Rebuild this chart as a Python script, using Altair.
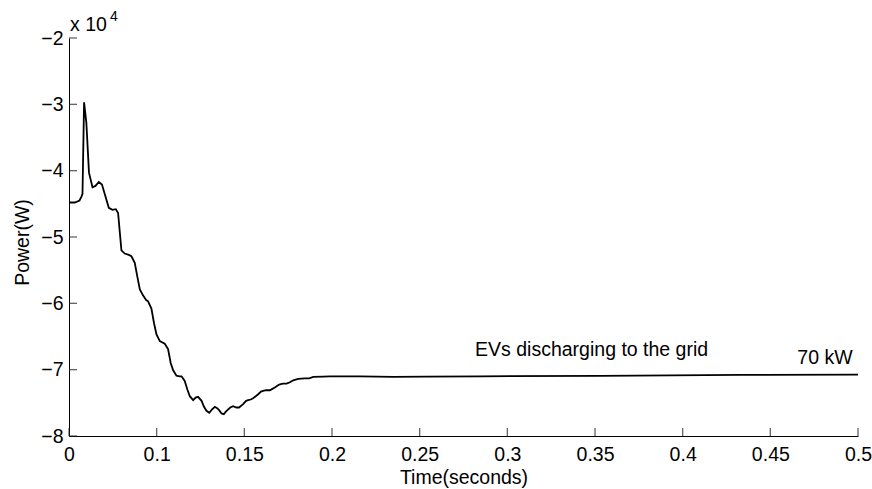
import altair as alt
import pandas as pd

# ---- data (time axis as displayed, power in W) ----
TIME = [0.0500, 0.0533, 0.0560, 0.0571, 0.0577, 0.0586, 0.0599, 0.0614, 0.0634, 0.0651,
        0.0670, 0.0688, 0.0708, 0.0727, 0.0748, 0.0767, 0.0780, 0.0799, 0.0818, 0.0841,
        0.0856, 0.0875, 0.0890, 0.0904, 0.0922, 0.0940, 0.0951, 0.0970, 0.0985, 0.0999,
        0.1018, 0.1046, 0.1065, 0.1080, 0.1094, 0.1113, 0.1130, 0.1142, 0.1160, 0.1175,
        0.1189, 0.1208, 0.1222, 0.1236, 0.1256, 0.1270, 0.1284, 0.1300, 0.1316, 0.1332,
        0.1345, 0.1356, 0.1370, 0.1383, 0.1396, 0.1408, 0.1420, 0.1436, 0.1455, 0.1470,
        0.1493, 0.1510, 0.1522, 0.1536, 0.1550, 0.1565, 0.1579, 0.1595, 0.1607, 0.1625,
        0.1646, 0.1660, 0.1674, 0.1690, 0.1703, 0.1720, 0.1741, 0.1760, 0.1779, 0.1807,
        0.1845, 0.1870, 0.1893, 0.1950, 0.1988, 0.2159, 0.2349, 0.2540, 0.2844, 0.3529,
        0.4328, 0.5000]
POWER_W = [-44800, -44800, -44500, -43900, -43500, -29700, -32800, -40300, -42500, -42300,
           -41700, -42100, -43900, -45600, -45900, -45800, -46400, -52000, -52500, -52700,
           -52900, -53900, -56000, -57900, -58800, -59500, -59700, -60800, -63000, -64700,
           -65700, -66100, -66900, -69000, -70100, -70900, -71000, -71000, -71700, -73000,
           -74000, -74600, -74200, -74100, -74700, -75600, -76200, -76500, -76000, -75600,
           -75800, -76100, -76600, -76700, -76300, -76000, -75700, -75500, -75700, -75700,
           -75200, -74700, -74600, -74500, -74300, -74000, -73700, -73300, -73200, -73100,
           -73100, -72900, -72700, -72400, -72200, -72100, -72100, -71900, -71600, -71400,
           -71300, -71300, -71100, -71050, -71000, -71000, -71100, -71050, -71000, -70950,
           -70800, -70750]

X_TICKS = [0.05, 0.1, 0.15, 0.2, 0.25, 0.3, 0.35, 0.4, 0.45, 0.5]
Y_TICKS = [-80000, -70000, -60000, -50000, -40000, -30000, -20000]

ANNOT_LEFT_TEXT = ["EVs discharging to the grid"]
ANNOT_LEFT_T = [0.2816]
ANNOT_LEFT_P = [-67950]
ANNOT_RIGHT_TEXT = ["70 kW"]
ANNOT_RIGHT_T = [0.4969]
ANNOT_RIGHT_P = [-69200]

FONT = "Liberation Sans"
W, H = 789, 398
TICK_LEN = 8

df = pd.DataFrame({"t": TIME, "p": POWER_W})

x_scale = alt.Scale(domain=[0.05, 0.5], nice=False, zero=False)
y_scale = alt.Scale(domain=[-80000, -20000], nice=False, zero=False)

x_axis = alt.Axis(
    values=X_TICKS, labelExpr="datum.value < 0.075 ? '0' : format(datum.value, '.2~f')",
    ticks=False, labelPadding=9, grid=False, domainColor="black",
    domainWidth=1, labelFontSize=19.5, labelColor="black", labelFont=FONT,
    title="Time(seconds)", titleFont=FONT, titleFontSize=19.5, titleFontWeight="normal",
    titleColor="black", titleY=47, titleBaseline="alphabetic", labelFlush=False,
    labelOverlap=False,
)
y_axis = alt.Axis(
    values=Y_TICKS, labelExpr="format(datum.value / 10000, 'd')",
    ticks=False, labelPadding=6, grid=False, domainColor="black",
    domainWidth=1, labelFontSize=19.5, labelColor="black", labelFont=FONT,
    title="Power(W)", titleFont=FONT, titleFontSize=19.5, titleFontWeight="normal",
    titleColor="black", titleX=-47, titleY=204, titleAlign="center",
    titleBaseline="middle", titleAngle=270, labelFlush=False, labelOverlap=False,
)


def X():
    return alt.X("t:Q", scale=x_scale, axis=x_axis, title="Time(seconds)")


def Y():
    return alt.Y("p:Q", scale=y_scale, axis=y_axis, title="Power(W)")


line = alt.Chart(df).mark_line(color="black", strokeWidth=1.8, interpolate="linear").encode(
    x=X(), y=Y(),
)

# inward ticks (MATLAB style)
xticks = alt.Chart(pd.DataFrame({"t": X_TICKS})).mark_tick(
    color="#222222", thickness=1.3, size=TICK_LEN, orient="vertical").encode(
    x=X(), y=alt.value(H - TICK_LEN / 2),
)
yticks = alt.Chart(pd.DataFrame({"p": Y_TICKS})).mark_tick(
    color="#222222", thickness=1.3, size=TICK_LEN, orient="horizontal").encode(
    y=Y(), x=alt.value(TICK_LEN / 2),
)

ann_left = alt.Chart(pd.DataFrame({"t": ANNOT_LEFT_T, "p": ANNOT_LEFT_P, "s": ANNOT_LEFT_TEXT})).mark_text(
    align="left", baseline="alphabetic", font=FONT, fontSize=19.5, color="black"
).encode(x=X(), y=Y(), text="s:N")

ann_right = alt.Chart(pd.DataFrame({"t": ANNOT_RIGHT_T, "p": ANNOT_RIGHT_P, "s": ANNOT_RIGHT_TEXT})).mark_text(
    align="right", baseline="alphabetic", font=FONT, fontSize=19.5, color="black"
).encode(x=X(), y=Y(), text="s:N")

exp_base = alt.Chart(pd.DataFrame({"s": ["x 10"]})).mark_text(
    align="left", baseline="alphabetic", font=FONT, fontSize=19.5, color="black"
).encode(x=alt.value(1), y=alt.value(-7), text="s:N")

exp_sup = alt.Chart(pd.DataFrame({"s": ["4"]})).mark_text(
    align="left", baseline="alphabetic", font=FONT, fontSize=14, color="black"
).encode(x=alt.value(41), y=alt.value(-17), text="s:N")

chart = alt.layer(line, xticks, yticks, ann_left, ann_right, exp_base, exp_sup).properties(
    width=W, height=H,
    autosize=alt.AutoSizeParams(type="none"),
    padding={"left": 69, "top": 38, "right": 14, "bottom": 53},
).configure_view(stroke="transparent")

chart.save("out.html", embed_options={"renderer": "svg", "actions": False})
